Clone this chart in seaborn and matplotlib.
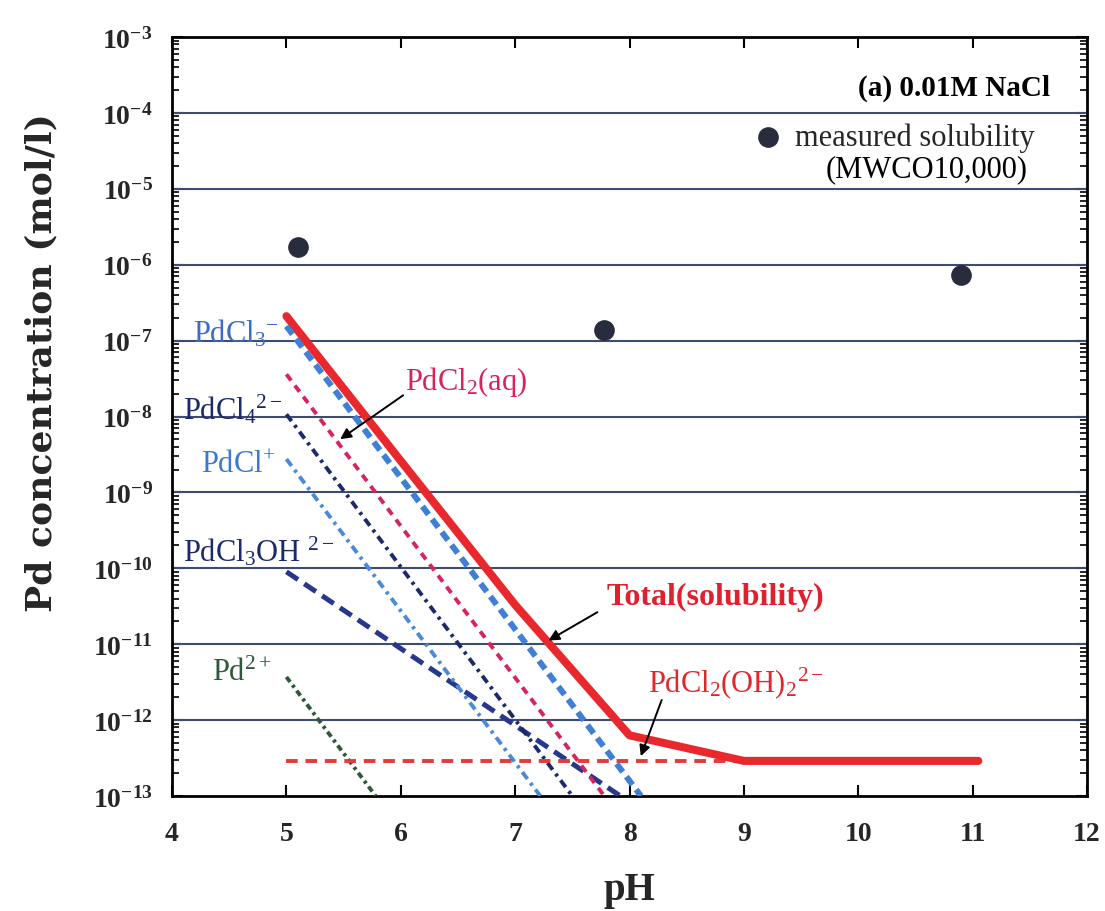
import matplotlib
matplotlib.use("Agg")
import matplotlib.pyplot as plt
import matplotlib.ticker as mticker
import seaborn as sns
import pandas as pd
import numpy as np

# ---------------- data ----------------
ph_pdcl3 = [5.0, 8.1];   c_pdcl3 = [1.55e-7, 1.0e-13]
ph_pdcl2 = [5.0, 7.78];  c_pdcl2 = [3.6e-8, 1.0e-13]
ph_pdcl4 = [5.0, 7.5];   c_pdcl4 = [1.07e-8, 1.0e-13]
ph_pdcl1 = [5.0, 7.22];  c_pdcl1 = [2.75e-9, 1.0e-13]
ph_pdcl3oh = [5.0, 7.92]; c_pdcl3oh = [9.0e-11, 1.0e-13]
ph_pd2 = [5.0, 5.78];    c_pd2 = [3.7e-12, 1.0e-13]
ph_pdcl2oh2 = [5.0, 9.0]; c_pdcl2oh2 = [2.9e-13, 2.9e-13]
ph_total = [5.0, 6.0, 7.0, 8.0, 9.0, 11.05]
c_total = [2.1e-7, 2.6e-9, 3.3e-11, 6.3e-13, 2.9e-13, 2.9e-13]
ph_meas = [5.1, 7.78, 10.9]
c_meas = [1.7e-6, 1.4e-7, 7.3e-7]

x_ticks = [4, 5, 6, 7, 8, 9, 10, 11, 12]
y_decades = list(range(-13, -2))

# ---------------- style ----------------
sns.set_theme(style="white")
serif = "Liberation Serif"
plt.rcParams["font.family"] = [serif, "DejaVu Serif"]
plt.rcParams["mathtext.fontset"] = "custom"
plt.rcParams["mathtext.rm"] = serif
plt.rcParams["mathtext.it"] = serif + ":italic"
plt.rcParams["mathtext.bf"] = serif + ":bold"

fig = plt.figure(figsize=(11.05, 9.12), dpi=100)
ax = fig.add_axes([0.1557, 0.1261, 0.828, 0.8322])
ax.set_yscale("log")
ax.set_xlim(4, 12)
ax.set_ylim(1e-13, 1e-3)

# gridlines at each decade
for d in y_decades[1:]:
    ax.axhline(10.0 ** d, color="#3f4c72", lw=1.5, zorder=1)

def line(xs, ys, color, lw, ls):
    df = pd.DataFrame({"pH": xs, "c": ys})
    sns.lineplot(data=df, x="pH", y="c", ax=ax, color=color, linewidth=lw,
                 linestyle=ls, sort=False, zorder=3, dash_capstyle="butt")

line(ph_pd2, c_pd2, "#2f5a3a", 2.8, (0, (1.6, 1.0, 0.8, 1.0)))
line(ph_pdcl3oh, c_pdcl3oh, "#26378c", 3.6, (0, (2.8, 1.5)))
line(ph_pdcl1, c_pdcl1, "#4a8ad8", 2.8, (0, (2.2, 1.3, 0.8, 1.3)))
line(ph_pdcl4, c_pdcl4, "#1c2a6a", 2.8, (0, (2.2, 1.3, 0.8, 1.3)))
line(ph_pdcl2, c_pdcl2, "#d6255c", 2.8, (0, (2.0, 1.6)))
line(ph_pdcl2oh2, c_pdcl2oh2, "#e33a3a", 2.8, (0, (3.0, 2.0)))
line(ph_total, c_total, "#e8282c", 5.8, "-")
line(ph_pdcl3, c_pdcl3, "#3f7fd6", 4.3, (0, (1.7, 1.0)))

sns.scatterplot(x=ph_meas, y=c_meas, ax=ax, s=190, color="#272d3d",
                edgecolor="#272d3d", zorder=5, label="measured solubility")

# ---------------- axes / ticks ----------------
ax.set_xticks(x_ticks)
ax.set_xticklabels([str(t) for t in x_ticks])
ax.yaxis.set_major_locator(mticker.LogLocator(base=10, numticks=20))
ax.yaxis.set_minor_locator(mticker.LogLocator(base=10, subs=np.arange(2, 10), numticks=20))
ax.yaxis.set_minor_formatter(mticker.NullFormatter())
ax.yaxis.set_major_formatter(mticker.FuncFormatter(
    lambda v, p: r"$\mathbf{10^{%d}}$" % int(round(np.log10(v)))))
ax.tick_params(axis="both", which="both", direction="in", top=True, right=True,
               bottom=True, left=True, color="black")
ax.tick_params(axis="x", which="major", length=8, width=1.5, labelsize=20, pad=18)
ax.tick_params(axis="y", which="major", length=8, width=1.5, labelsize=20, pad=14)
ax.tick_params(axis="y", which="minor", length=5, width=1.2)
for lab in ax.get_xticklabels():
    lab.set_fontweight("bold")
for s in ax.spines.values():
    s.set_color("black")
    s.set_linewidth(2.0)

ax.set_xlabel("pH", fontsize=28, fontweight="bold", labelpad=18)
ax.set_ylabel("Pd concentration (mol/l)", fontsize=26, fontweight="bold",
              family=["DejaVu Serif"])
ax.yaxis.set_label_coords(-0.124, 0.573)

# ---------------- annotations ----------------
fs = 22
ax.text(4.18, 10**-6.89, r"PdCl$_3$$^{-}$", color="#3a6cc8", fontsize=fs, va="center")
ax.text(6.04, 10**-7.53, r"PdCl$_2$(aq)", color="#d6255c", fontsize=fs, va="center")
ax.text(4.10, 10**-7.90, r"PdCl$_4$$^{2-}$", color="#1c2a6a", fontsize=fs, va="center")
ax.text(4.25, 10**-8.63, r"PdCl$^{+}$", color="#3a78d4", fontsize=fs, va="center")
ax.text(4.10, 10**-9.77, r"PdCl$_3$OH $^{2-}$", color="#1c2a6a", fontsize=fs, va="center")
ax.text(4.35, 10**-11.37, r"Pd$^{2+}$", color="#2f5a3a", fontsize=fs, va="center")
ax.text(7.80, 10**-10.37, "Total(solubility)", color="#e0202c", fontsize=23,
        fontweight="bold", va="center")
ax.text(8.16, 10**-11.50, r"PdCl$_2$(OH)$_2$$^{2-}$", color="#e0282c", fontsize=fs, va="center")

arrow = dict(arrowstyle="-|>", color="black", lw=1.4, mutation_scale=16)
ax.annotate("", xy=(5.45, 10**-8.32), xytext=(6.04, 10**-7.70), arrowprops=arrow)
ax.annotate("", xy=(7.27, 10**-10.97), xytext=(7.74, 10**-10.56), arrowprops=arrow)
ax.annotate("", xy=(8.09, 10**-12.51), xytext=(8.29, 10**-11.70), arrowprops=arrow)

ax.text(0.96, 0.934, "(a) 0.01M NaCl", transform=ax.transAxes, ha="right",
        va="center", fontsize=21, fontweight="bold", color="black")
leg = ax.legend(loc="upper left", bbox_to_anchor=(0.635, 0.887), frameon=False,
                fontsize=22, handlelength=1.0, handletextpad=0.38, borderpad=0,
                borderaxespad=0, markerscale=1.0)
ax.text(0.825, 0.826, "(MWCO10,000)", transform=ax.transAxes, ha="center",
        va="center", fontsize=22, color="black")

fig.savefig("out.png", dpi=100, facecolor="white")
